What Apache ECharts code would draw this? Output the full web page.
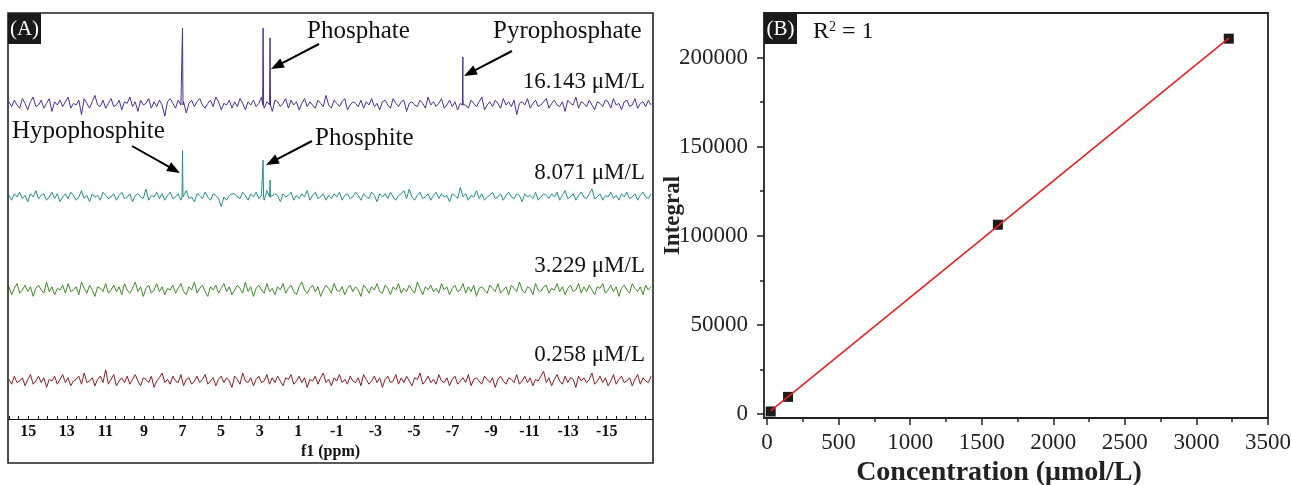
<!DOCTYPE html>
<html><head><meta charset="utf-8">
<script src="https://cdn.jsdelivr.net/npm/echarts@6/dist/echarts.min.js"></script>
<style>html,body{margin:0;padding:0;background:#fff}#c{width:1292px;height:485px}</style>
</head><body><div id="c"></div>
<script>
// ---------- Panel A : 31P NMR spectra ----------
const ppmStart = 16.0;
const ppmEnd = -17.3;
const ppmTickLabels = [15, 13, 11, 9, 7, 5, 3, 1, -1, -3, -5, -7, -9, -11, -13, -15];
const concLabels = ['16.143 μM/L', '8.071 μM/L', '3.229 μM/L', '0.258 μM/L'];

const noisePurple = [2,-1,3,0,-2,4,1,-3,2,5,-1,0,3,-2,1,4,-4,2,0,3,
-1,2,5,-2,1,0,3,-6,4,1,-2,2,6,0,-1,3,-2,1,4,-1,
0,3,-3,2,1,5,-1,2,-4,3,0,1,4,-2,2,-1,3,0,-7,2,
4,1,-2,3,0,2,-5,1,3,-1,2,4,0,-2,1,3,-1,5,2,-3,
1,0,3,-2,2,-1,4,1,-3,2,0,3,-1,1,5,-2,2,0,-4,3,
2,-1,1,4,-2,3,0,2,-3,1,4,-1,2,0,-2,3,1,-1,6,0,
-2,3,1,-1,2,4,-3,0,2,1,-1,3,-2,2,0,4,-1,1,-3,2,
3,0,-2,4,1,-1,2,3,-4,1,2,0,-1,3,1,-2,5,0,2,-1,
1,4,-2,0,3,-1,2,-3,1,4,0,-2,3,1,-1,2,5,-3,0,2,
-1,3,1,-2,4,0,2,-1,3,-6,1,2,0,4,-2,1,3,-1,0,2,
4,-2,1,3,0,-1,2,-4,3,1,0,5,-2,2,1,-1,3,0,-3,2,
1,-1,3,2,-2,4,0,1,-3,2,3,-1,0,4,-2,1,2,-1,3,0];
const noiseTeal = [1,-2,2,0,3,-1,1,-3,2,0,4,-1,1,2,-2,0,3,-1,2,-3,
0,2,-1,3,1,-2,0,4,-1,1,-3,2,0,1,-2,3,1,-1,0,2,
-2,1,3,-1,0,2,-3,1,2,0,-1,5,-2,1,0,3,-1,2,-2,1,
3,-1,0,2,-2,1,4,-1,0,-3,2,1,-1,3,0,-2,2,1,-1,-6,
0,-2,1,2,2,0,-1,3,1,-2,2,0,3,-1,1,-2,4,0,-1,2,
1,-3,2,0,1,3,-2,1,-1,2,0,4,-2,1,3,-1,0,2,-2,1,
-1,2,0,3,-2,1,2,-1,0,3,1,-2,2,0,-1,3,1,-3,2,0,
2,-1,3,0,-2,1,2,4,-1,5,0,-2,1,3,-1,0,2,-2,1,3,
-1,2,0,1,-3,2,1,-1,6,0,2,-2,1,0,4,-1,2,-2,0,1,
3,-1,0,2,-2,1,3,0,-1,2,1,-3,2,0,1,-1,3,-2,0,2,
1,-1,2,0,3,-2,1,4,-1,0,2,-2,1,3,0,-1,2,5,-1,0,
2,-2,1,0,3,-1,1,-2,2,0,3,-1,0,2,-2,1,3,0,-1,2];
const noiseGreen = [2,-3,1,4,-2,0,3,-1,2,-4,1,3,0,-2,5,-1,2,-3,1,0,
3,-2,4,-1,0,2,-3,5,1,-2,3,0,-4,2,1,-1,4,-2,0,3,
-1,2,-3,4,0,-2,1,5,-1,2,-4,1,3,-2,0,4,-1,2,-3,1,
0,3,-2,1,4,-1,-3,2,0,5,-2,1,3,-1,-4,2,0,3,-2,1,
4,-1,2,-3,0,3,1,-2,5,-1,2,-4,1,3,0,-2,4,-1,1,-3,
2,0,4,-2,1,3,-1,-3,2,5,0,-2,1,3,-1,2,-4,0,3,1,
-2,4,0,-1,2,-3,1,3,-1,2,0,-4,3,1,-2,2,0,4,-1,-2,
3,1,-3,2,0,4,-2,1,-1,3,0,-2,5,1,-3,2,0,3,-1,1,
-2,4,0,2,-3,1,3,-1,0,4,-2,2,-1,3,-4,1,2,0,-2,3,
1,-1,4,-2,0,2,-3,3,1,-1,5,0,-2,2,1,-3,4,0,-1,2,
3,-2,1,0,4,-1,2,-3,1,3,-1,0,4,-2,2,-1,3,0,-3,2,
1,4,-2,0,3,-1,2,-4,1,3,0,-2,4,1,-1,2,-3,3,0,2];
const noiseRed = [1,-2,3,-1,0,2,-3,1,4,-2,0,3,-1,2,-4,1,0,3,-2,1,
4,-1,2,-3,0,1,3,-2,5,-1,0,2,-3,1,3,-1,7,-2,1,4,
-3,0,2,-1,3,-2,1,4,0,-3,2,1,-1,3,-4,0,2,5,-1,1,
-2,3,0,-1,4,-3,1,2,-2,0,3,-1,1,4,-2,0,2,-3,1,3,
-1,2,0,-4,3,1,-2,5,0,-1,2,-3,1,3,-1,0,4,-2,2,-1,
3,0,-3,2,1,4,-2,0,3,-1,2,-4,1,0,3,-2,2,5,-1,1,
-3,2,0,4,-1,1,-2,3,0,-1,2,-3,4,1,-2,0,3,-1,2,-4,
1,3,-1,0,4,-2,2,-1,3,0,-3,2,1,5,-2,0,3,-1,1,-2,
4,0,-1,2,-3,1,3,-2,0,2,-1,4,-3,1,2,0,-2,3,1,-1,
2,-4,1,3,0,-2,2,1,-1,4,-2,0,3,-1,2,-3,1,0,3,6,
-1,2,-3,1,4,0,-2,3,-1,2,1,-4,3,0,2,-1,1,5,-2,0,
3,-1,2,-3,0,4,-2,1,3,-1,0,2,-3,1,4,-2,2,0,-1,3];

// peaks [ppm, intensity]
const peaksPurple = [[7.0, 48], [2.82, 48], [2.46, 42], [-7.54, 30]];
const peaksTeal = [[7.0, 29], [2.82, 23], [2.46, 10.5]];
const peaksGreen = [];
const peaksRed = [];

// ---------- Panel B : calibration ----------
const concentration = [25.8, 147, 1613, 3226];
const integral = [1400, 9600, 106200, 210600];
const xTickLabelsB = [0, 500, 1000, 1500, 2000, 2500, 3000, 3500];
const xMinorTicksB = [250, 750, 1250, 1750, 2250, 2750, 3250];
const yTickLabelsB = [0, 50000, 100000, 150000, 200000];
const yMinorTicksB = [25000, 75000, 125000, 175000];

function buildSpectrum(noise, peaks) {
  const step = (ppmStart - ppmEnd) / (noise.length - 1);
  const pts = noise.map((v, i) => [ppmStart - i * step, v]);
  peaks.forEach(([x, h]) => { pts.push([x + 0.025, 0], [x, h], [x - 0.025, 0]); });
  pts.sort((a, b) => b[0] - a[0]);
  return pts;
}

// least-squares fit for panel B
const n = concentration.length;
const mx = concentration.reduce((a, b) => a + b, 0) / n;
const my = integral.reduce((a, b) => a + b, 0) / n;
let sxy = 0, sxx = 0;
for (let i = 0; i < n; i++) { sxy += (concentration[i] - mx) * (integral[i] - my); sxx += (concentration[i] - mx) ** 2; }
const slope = sxy / sxx, icpt = my - slope * mx;
const xFit = [concentration[0], concentration[n - 1]];
const fitLine = xFit.map(x => [x, icpt + slope * x]);

const SERIF = '"Liberation Serif", "Times New Roman", serif';
const ppmTicks = [];
for (let v = 16; v >= -17; v -= 0.5) ppmTicks.push(v);

const spectra = [
  { noise: noisePurple, peaks: peaksPurple, color: '#4d2f93', top: 20, h: 105, min: -12.5 },
  { noise: noiseTeal, peaks: peaksTeal, color: '#23908f', top: 112, h: 105, min: -12.5 },
  { noise: noiseGreen, peaks: peaksGreen, color: '#3f8c2a', top: 205, h: 105, min: -12.5 },
  { noise: noiseRed, peaks: peaksRed, color: '#8a1d1f', top: 296, h: 123, min: -23.75 }
];

const grids = [], xAxes = [], yAxes = [], series = [];
spectra.forEach((s, i) => {
  grids.push({ left: 8, width: 645, top: s.top, height: s.h, outerBoundsMode: 'none', containLabel: false });
  const last = i === spectra.length - 1;
  xAxes.push({
    type: 'value', gridIndex: i, min: ppmEnd - 0.1, max: ppmStart + 0.05, inverse: true,
    show: last, position: 'bottom',
    axisLine: { show: true, onZero: false, lineStyle: { color: '#111', width: 1.2 } },
    axisTick: { show: true, inside: true, length: 3, customValues: ppmTicks, lineStyle: { color: '#111' } },
    axisLabel: { customValues: ppmTickLabels, margin: 5, fontFamily: SERIF, fontWeight: 'bold', fontSize: 16, color: '#111' },
    splitLine: { show: false },
    name: last ? 'f1 (ppm)' : '', nameLocation: 'middle', nameGap: 25, nameMoveOverlap: false,
    nameTextStyle: { fontFamily: SERIF, fontWeight: 'bold', fontSize: 16, color: '#111' }
  });
  yAxes.push({ type: 'value', gridIndex: i, min: s.min, max: 53.1, show: false, splitLine: { show: false },
    axisLine: { onZero: false } });
  series.push({
    type: 'line', xAxisIndex: i, yAxisIndex: i, data: buildSpectrum(s.noise, s.peaks),
    showSymbol: false, symbol: 'none', lineStyle: { color: s.color, width: 1 }, animation: false
  });
});

// Panel B grid
const plain = v => String(v);
grids.push({ left: 764, top: 13, width: 504, height: 405, outerBoundsMode: 'none', containLabel: false });
const tickStyleB = { color: '#222', width: 1.5 };
xAxes.push({
  type: 'value', gridIndex: 4, min: -21, max: 3500, position: 'bottom',
  axisLine: { show: false, onZero: false },
  axisTick: { show: true, inside: false, length: 7, customValues: xTickLabelsB, lineStyle: tickStyleB },
  axisLabel: { customValues: xTickLabelsB, formatter: plain, margin: 13, fontFamily: SERIF, fontSize: 23, color: '#222' },
  splitLine: { show: false },
  name: 'Concentration (μmol/L)', nameLocation: 'middle', nameGap: 41, nameMoveOverlap: false,
  nameTextStyle: { fontFamily: SERIF, fontWeight: 'bold', fontSize: 28, color: '#222', padding: [0, 34, 0, 0] }
});
xAxes.push({
  type: 'value', gridIndex: 4, min: -21, max: 3500, position: 'bottom',
  axisLine: { show: false, onZero: false },
  axisTick: { show: true, inside: false, length: 4, customValues: xMinorTicksB, lineStyle: tickStyleB },
  axisLabel: { show: false }, splitLine: { show: false }
});
yAxes.push({
  type: 'value', gridIndex: 4, min: -2250, max: 225000, position: 'left',
  axisLine: { show: false, onZero: false },
  axisTick: { show: true, inside: false, length: 7, customValues: yTickLabelsB, lineStyle: tickStyleB },
  axisLabel: { customValues: yTickLabelsB, formatter: plain, margin: 16, fontFamily: SERIF, fontSize: 23, color: '#222' },
  splitLine: { show: false },
  name: 'Integral', nameLocation: 'middle', nameGap: 79, nameMoveOverlap: false,
  nameTextStyle: { fontFamily: SERIF, fontWeight: 'bold', fontSize: 23, color: '#222' }
});
yAxes.push({
  type: 'value', gridIndex: 4, min: -2250, max: 225000, position: 'left',
  axisLine: { show: false, onZero: false },
  axisTick: { show: true, inside: false, length: 4, customValues: yMinorTicksB, lineStyle: tickStyleB },
  axisLabel: { show: false }, splitLine: { show: false }
});
series.push({
  type: 'scatter', xAxisIndex: 4, yAxisIndex: 4, data: concentration.map((c, i) => [c, integral[i]]),
  symbol: 'rect', symbolSize: 10, itemStyle: { color: '#1c1c1c', opacity: 1 }, z: 3, animation: false
});
series.push({
  type: 'line', xAxisIndex: 4, yAxisIndex: 4, data: fitLine, symbol: 'none',
  lineStyle: { color: '#e8211f', width: 1.6 }, z: 4, animation: false
});

function arrow(x1, y1, x2, y2) {
  const dx = x2 - x1, dy = y2 - y1, L = Math.hypot(dx, dy), ux = dx / L, uy = dy / L;
  const hl = 13, hw = 5;
  const bx = x2 - ux * hl, by = y2 - uy * hl;
  return [
    { type: 'line', shape: { x1, y1, x2: bx + ux * 2, y2: by + uy * 2 }, style: { stroke: '#000', lineWidth: 2 }, z: 10 },
    { type: 'polygon', shape: { points: [[x2, y2], [bx - uy * hw, by + ux * hw], [bx + uy * hw, by - ux * hw]] }, style: { fill: '#000' }, z: 10 }
  ];
}
function txt(x, y, text, size, align) {
  return { type: 'text', x, y, z: 10,
    style: { text, fontFamily: SERIF, fontSize: size, fill: '#111', align: align || 'left', verticalAlign: 'middle' } };
}

const graphics = [
  { type: 'rect', shape: { x: 8, y: 13, width: 645, height: 450 }, style: { fill: 'none', stroke: '#222', lineWidth: 1.6 }, z: 10 },
  { type: 'rect', shape: { x: 8, y: 13, width: 33, height: 31 }, style: { fill: '#1a1a1a' }, z: 11 },
  { type: 'text', x: 24.5, y: 29, z: 12, style: { text: '(A)', fontFamily: SERIF, fontSize: 21, fill: '#fff', align: 'center', verticalAlign: 'middle' } },
  txt(307, 31, 'Phosphate', 25),
  txt(493, 31, 'Pyrophosphate', 25),
  txt(645, 82, concLabels[0], 23, 'right'),
  txt(12, 131, 'Hypophosphite', 25),
  txt(315, 138, 'Phosphite', 25),
  txt(645, 173, concLabels[1], 23, 'right'),
  txt(645, 266, concLabels[2], 23, 'right'),
  txt(645, 355, concLabels[3], 23, 'right'),
  ...arrow(319, 44, 271, 69),
  ...arrow(512, 51, 464, 76),
  ...arrow(132, 146, 180, 173),
  ...arrow(312, 141, 266, 165),
  // Panel B frame and labels
  { type: 'rect', shape: { x: 764, y: 13, width: 504, height: 405 }, style: { fill: 'none', stroke: '#222', lineWidth: 1.8 }, z: 10 },
  { type: 'rect', shape: { x: 764, y: 13, width: 33, height: 31 }, style: { fill: '#1a1a1a' }, z: 11 },
  { type: 'text', x: 780.5, y: 29, z: 12, style: { text: '(B)', fontFamily: SERIF, fontSize: 21, fill: '#fff', align: 'center', verticalAlign: 'middle' } },
  { type: 'text', x: 813, y: 32, z: 12, style: { text: '{n|R}{s|2}{n| = 1}', fontFamily: SERIF, verticalAlign: 'middle',
      rich: { n: { fontFamily: SERIF, fontSize: 24, fill: '#111' }, s: { fontFamily: SERIF, fontSize: 14, fill: '#111', verticalAlign: 'top', padding: [0, 0, 10, 0] } } } }
];

const chart = echarts.init(document.getElementById('c'), null, { renderer: 'canvas' });
chart.setOption({
  animation: false,
  backgroundColor: '#fff',
  grid: grids, xAxis: xAxes, yAxis: yAxes, series,
  graphic: graphics
});
</script></body></html>
